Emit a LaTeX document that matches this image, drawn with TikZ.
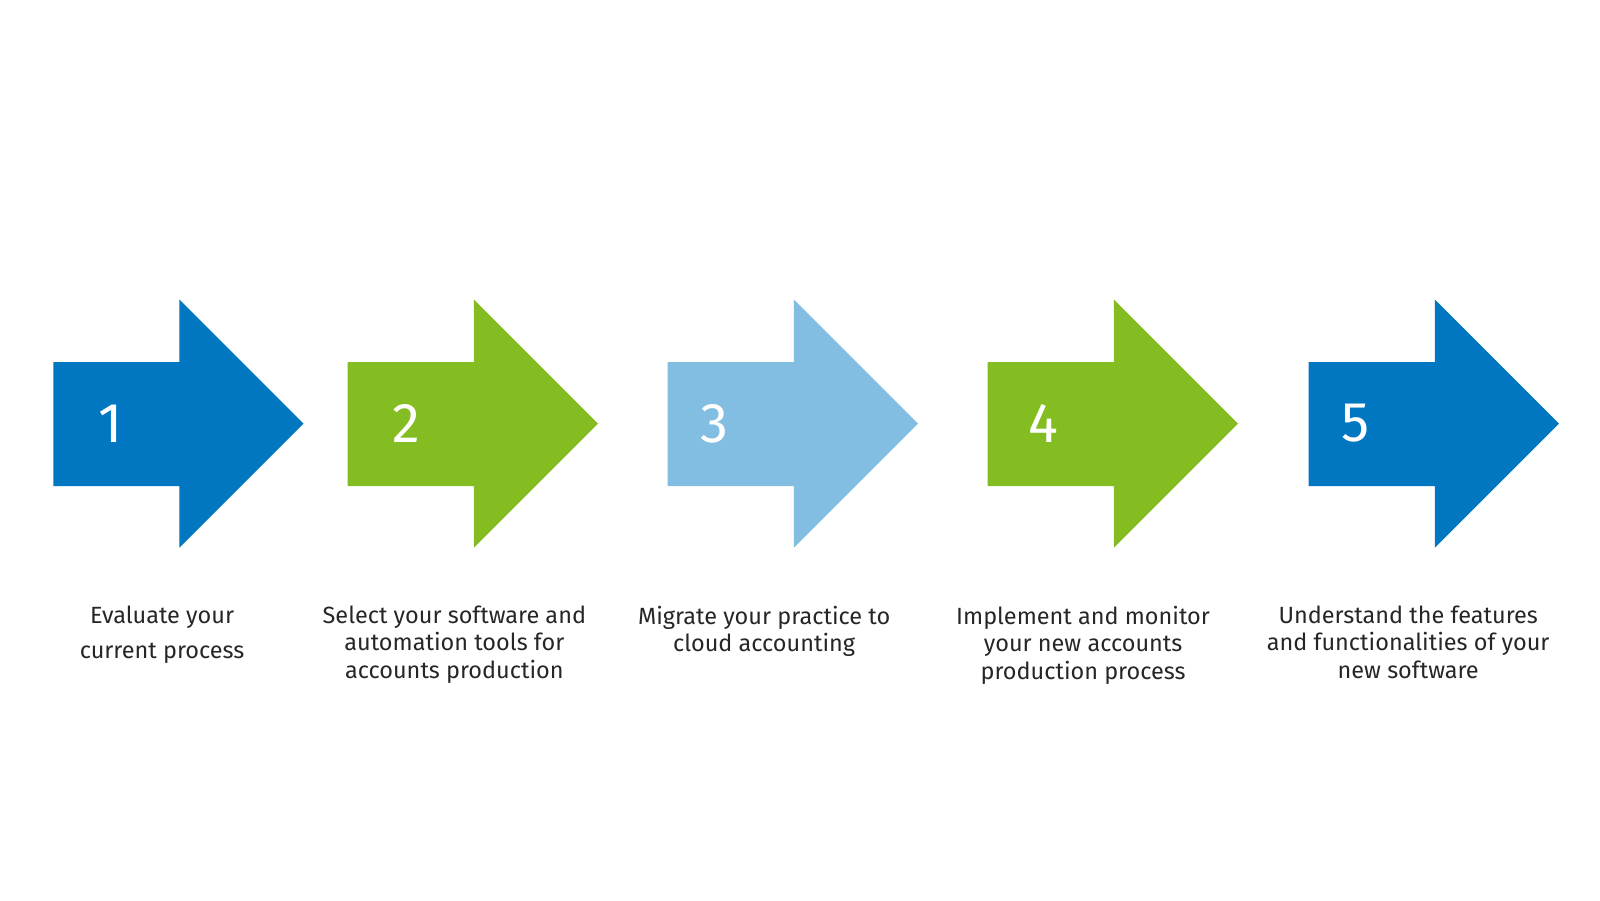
\documentclass[tikz,border=0pt]{standalone}
\usepackage{fontspec}
\setmainfont{Fira Sans}
\definecolor{stepblue}{HTML}{0077C0}
\definecolor{stepgreen}{HTML}{84BD22}
\definecolor{steplight}{HTML}{82BDE2}
\tikzset{
  step arrow/.style = {fill=#1, draw=none},
  step num/.style = {text=white, font=\fontsize{42}{42}\selectfont, anchor=center},
  step text/.style = {align=center, anchor=north, font=\fontsize{17.6}{20.7}\selectfont, text=black!85}
}
\begin{document}
\begin{tikzpicture}[x=0.7692pt, y=-0.7692pt]
  \useasboundingbox (0,0) rectangle (1560,877.5);
  \foreach \x/\c/\n/\nx/\tx/\t in {
      52/stepblue/1/108/158/{Evaluate your\\[6pt]current process},
      339/stepgreen/2/396/443/{Select your software and\\automation tools for\\accounts production},
      651/steplight/3/697/745/{Migrate your practice to\\cloud accounting},
      963/stepgreen/4/1017/1056/{Implement and monitor\\your new accounts\\production process},
      1276/stepblue/5/1322/1373/{Understand the features\\and functionalities of your\\new software}} {
    \fill[step arrow=\c] (\x,353) -- ++(123,0) -- ++(0,-61) -- ++(121,121)
      -- ++(-121,121) -- ++(0,-60) -- ++(-123,0) -- cycle;
    \node[step num] (num\n) at (\nx,413) {\n};
    \node[step text] (txt\n) at (\tx,586) {\t};
  }
\end{tikzpicture}
\end{document}
